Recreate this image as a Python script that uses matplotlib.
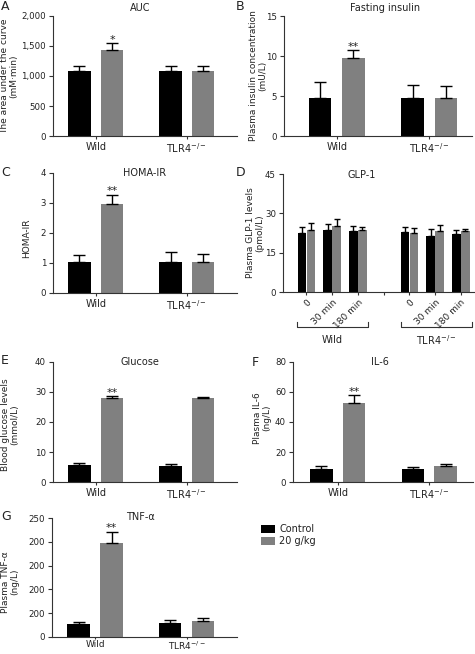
import numpy as np
import matplotlib
matplotlib.use('Agg')
import matplotlib.pyplot as plt

# ---- data ----
groups = ['Wild', r'TLR4$^{-/-}$']

auc_ctrl = [1090, 1090]
auc_ctrl_err = [85, 85]
auc_diet = [1435, 1090]
auc_diet_err = [110, 85]

insulin_ctrl = [4.8, 4.8]
insulin_ctrl_err = [1.9, 1.6]
insulin_diet = [9.8, 4.7]
insulin_diet_err = [0.9, 1.55]

homa_ctrl = [1.04, 1.05]
homa_ctrl_err = [0.24, 0.31]
homa_diet = [2.96, 1.05]
homa_diet_err = [0.31, 0.26]

glp1_times = ['0', '30 min', '180 min']
glp1_wild_ctrl = [22.5, 23.8, 23.4]
glp1_wild_ctrl_err = [2.3, 2.1, 1.6]
glp1_wild_diet = [23.6, 25.3, 23.6]
glp1_wild_diet_err = [2.6, 2.5, 1.2]
glp1_tlr4_ctrl = [22.9, 21.5, 22.2]
glp1_tlr4_ctrl_err = [1.9, 2.5, 1.4]
glp1_tlr4_diet = [22.4, 23.3, 23.1]
glp1_tlr4_diet_err = [2.1, 2.1, 1.0]

glucose_ctrl = [5.8, 5.3]
glucose_ctrl_err = [0.4, 0.8]
glucose_diet = [28.1, 27.9]
glucose_diet_err = [0.5, 0.5]

il6_ctrl = [8.9, 8.4]
il6_ctrl_err = [1.8, 1.6]
il6_diet = [52.5, 10.7]
il6_diet_err = [5.3, 1.5]

tnf_ctrl = [27, 29]
tnf_ctrl_err = [4, 6]
tnf_diet = [198, 33]
tnf_diet_err = [23, 7]
tnf_ticks = [0, 50, 100, 150, 200, 250]
tnf_ticklabels = ['0', '200', '200', '200', '200', '250']

labels = ['Control', '20 g/kg']
C_CTRL = 'black'
C_DIET = '#808080'
TXT = '#222222'

W, H = 475, 654
plt.rcParams['font.family'] = 'DejaVu Sans'
plt.rcParams['font.size'] = 6.5
plt.rcParams['text.color'] = TXT
plt.rcParams['axes.edgecolor'] = '#333333'
plt.rcParams['xtick.color'] = '#333333'
plt.rcParams['ytick.color'] = '#333333'
plt.rcParams['xtick.labelcolor'] = TXT
plt.rcParams['ytick.labelcolor'] = TXT

fig = plt.figure(figsize=(W / 100, H / 100), dpi=100)


def fx(x):
    return x / W


def fy(y):
    return 1 - y / H


def make_axes(x0, x1, top, bottom):
    ax = fig.add_axes([fx(x0), fy(bottom), (x1 - x0) / W, (bottom - top) / H])
    for s in ['top', 'right']:
        ax.spines[s].set_visible(False)
    ax.spines['left'].set_linewidth(0.8)
    ax.spines['bottom'].set_linewidth(0.8)
    ax.tick_params(axis='y', length=3, width=0.8, pad=2, labelsize=6.2)
    ax.tick_params(axis='x', length=2, width=0.8, pad=2)
    return ax


def bars(ax, x, vals, errs, color, width, cap=4.5):
    b = ax.bar(x, vals, width, color=color, zorder=2)
    ax.errorbar(x, vals, yerr=[np.zeros(len(vals)), errs], fmt='none',
                ecolor='black', elinewidth=1, capsize=cap, capthick=1, zorder=3)
    return b


def star(ax, x, top, s):
    ax.annotate(s, (x, top), xytext=(0, -1), textcoords='offset points',
                ha='center', va='bottom', fontsize=8)


def two_group(ax, ctrl, ctrl_err, diet, diet_err, xlim, yticks, ytl=None, stars=None):
    x = np.arange(2)
    off, w = 0.18, 0.245
    b1 = bars(ax, x - off, ctrl, ctrl_err, C_CTRL, w)
    b2 = bars(ax, x + off, diet, diet_err, C_DIET, w)
    ax.set_xlim(*xlim)
    ax.set_ylim(yticks[0], yticks[-1])
    ax.set_yticks(yticks)
    if ytl is not None:
        ax.set_yticklabels(ytl)
    ax.set_xticks(x)
    ax.set_xticklabels(groups, fontsize=7)
    if stars:
        star(ax, x[0] + off, diet[0] + diet_err[0], stars)
    return b1, b2


def ylab(x, y, s):
    fig.text(fx(x), fy(y), s, rotation=90, ha='center', va='center',
             multialignment='center', fontsize=6.5, linespacing=1.1)


def title(x, y, s):
    fig.text(fx(x), fy(y), s, ha='center', va='center', fontsize=7)


def letter(x, y, s):
    fig.text(fx(x), fy(y), s, ha='left', va='center', fontsize=9)


# A: AUC
axA = make_axes(53, 237, 16, 136)
two_group(axA, auc_ctrl, auc_ctrl_err, auc_diet, auc_diet_err, (-0.47, 1.55),
          [0, 500, 1000, 1500, 2000], ['0', '500', '1,000', '1,500', '2,000'], '*')
ylab(9, 76, 'The area under the curve\n(mM\u00b7min)')
title(140, 8, 'AUC')
letter(1, 6, 'A')

# B: fasting insulin
axB = make_axes(284, 472, 16, 136)
two_group(axB, insulin_ctrl, insulin_ctrl_err, insulin_diet, insulin_diet_err,
          (-0.57, 1.46), [0, 5, 10, 15], stars='**')
ylab(258, 76, 'Plasma insulin concentration\n(mU/L)')
title(385, 8, 'Fasting insulin')
letter(236, 6, 'B')

# C: HOMA-IR
axC = make_axes(53, 237, 173, 293)
two_group(axC, homa_ctrl, homa_ctrl_err, homa_diet, homa_diet_err, (-0.47, 1.55),
          [0, 1, 2, 3, 4], stars='**')
ylab(27, 238, 'HOMA-IR')
title(145, 173, 'HOMA-IR')
letter(1, 172, 'C')

# D: GLP-1
axD = make_axes(283, 475, 174, 292)
xw = np.arange(3)
xt = np.arange(3) + 4
off, w = 0.175, 0.33
bars(axD, xw - off, glp1_wild_ctrl, glp1_wild_ctrl_err, C_CTRL, w, 2.5)
bars(axD, xw + off, glp1_wild_diet, glp1_wild_diet_err, C_DIET, w, 2.5)
bars(axD, xt - off, glp1_tlr4_ctrl, glp1_tlr4_ctrl_err, C_CTRL, w, 2.5)
bars(axD, xt + off, glp1_tlr4_diet, glp1_tlr4_diet_err, C_DIET, w, 2.5)
axD.set_xlim(-0.91, 6.55)
axD.set_ylim(0, 45)
axD.set_yticks([0, 15, 30, 45])
axD.set_xticks(np.arange(7))
axD.set_xticklabels(glp1_times + [''] + glp1_times, rotation=45, ha='right',
                    rotation_mode='anchor', fontsize=6.5)
# group brackets below the axis
for (a, b, name) in [(297, 368, groups[0]), (401, 472, groups[1])]:
    fig.add_artist(plt.Line2D([fx(a), fx(a), fx(b), fx(b)],
                              [fy(322), fy(327), fy(327), fy(322)],
                              color='#333333', lw=0.8))
    fig.text(fx((a + b) / 2), fy(340), name, ha='center', va='center', fontsize=7)
ylab(255, 233, 'Plasma GLP-1 levels\n(pmol/L)')
title(362, 175, 'GLP-1')
letter(236, 172, 'D')

# E: glucose
axE = make_axes(53, 237, 362, 482)
two_group(axE, glucose_ctrl, glucose_ctrl_err, glucose_diet, glucose_diet_err,
          (-0.47, 1.55), [0, 10, 20, 30, 40], stars='**')
ylab(10, 425, 'Blood glucose levels\n(mmol/L)')
title(140, 362, 'Glucose')
letter(1, 360, 'E')

# F: IL-6
axF = make_axes(293, 473, 362, 482)
two_group(axF, il6_ctrl, il6_ctrl_err, il6_diet, il6_diet_err, (-0.49, 1.48),
          [0, 20, 40, 60, 80], stars='**')
ylab(262, 418, 'Plasma IL-6\n(ng/L)')
title(380, 362, 'IL-6')
letter(252, 362, 'F')

# G: TNF-alpha
axG = make_axes(52, 237, 518, 637)
hG = two_group(axG, tnf_ctrl, tnf_ctrl_err, tnf_diet, tnf_diet_err, (-0.47, 1.55),
               tnf_ticks, tnf_ticklabels, '**')
axG.tick_params(axis='x', length=1.5, pad=0.5, labelsize=6.5)
ylab(10, 582, 'Plasma TNF-\u03b1\n(ng/L)')
title(140, 517, 'TNF-\u03b1')
letter(1, 517, 'G')

fig.legend(hG, labels, loc='upper left', bbox_to_anchor=(fx(257), fy(520)),
           frameon=False, fontsize=7, handlelength=1.5, handleheight=0.9,
           handletextpad=0.4, labelspacing=0.25, borderaxespad=0)

fig.savefig('out.png', dpi=100)
